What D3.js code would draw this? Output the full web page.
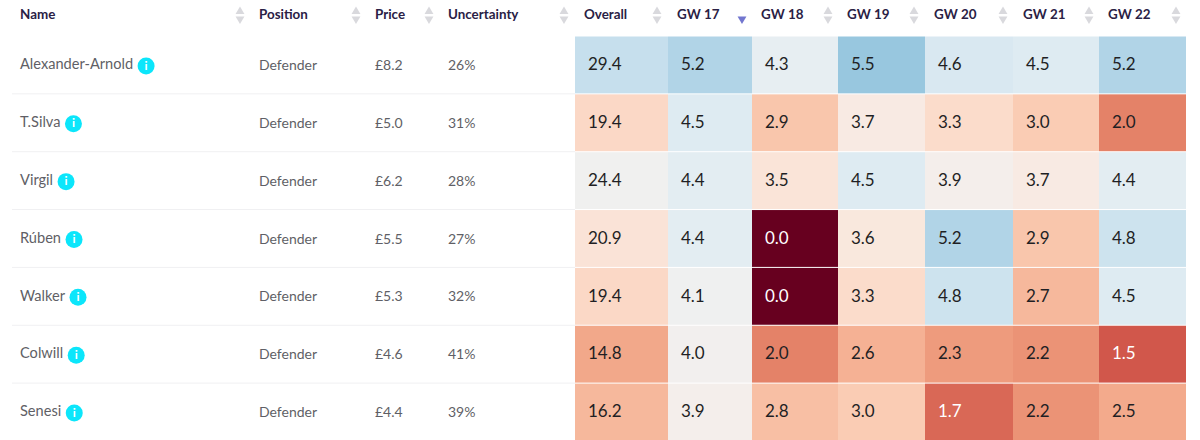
<!DOCTYPE html>
<html>
<head>
<meta charset="utf-8">
<script src="https://cdn.jsdelivr.net/npm/d3@7"></script>
<style>
  html, body { margin: 0; padding: 0; background: #fff; overflow: hidden; }
  text { font-family: Lato, "Open Sans", sans-serif; }
</style>
</head>
<body>
<div id="plot"></div>
<script>
const players = ["Alexander-Arnold", "T.Silva", "Virgil", "Rúben", "Walker", "Colwill", "Senesi"];
const positions = ["Defender", "Defender", "Defender", "Defender", "Defender", "Defender", "Defender"];
const prices = ["£8.2", "£5.0", "£6.2", "£5.5", "£5.3", "£4.6", "£4.4"];
const uncertainty = ["26%", "31%", "28%", "27%", "32%", "41%", "39%"];
const overall = [29.4, 19.4, 24.4, 20.9, 19.4, 14.8, 16.2];
const gw17 = [5.2, 4.5, 4.4, 4.4, 4.1, 4.0, 3.9];
const gw18 = [4.3, 2.9, 3.5, 0.0, 0.0, 2.0, 2.8];
const gw19 = [5.5, 3.7, 4.5, 3.6, 3.3, 2.6, 3.0];
const gw20 = [4.6, 3.3, 3.9, 5.2, 4.8, 2.3, 1.7];
const gw21 = [4.5, 3.0, 3.7, 2.9, 2.7, 2.2, 2.2];
const gw22 = [5.2, 2.0, 4.4, 4.8, 4.5, 1.5, 2.5];
const heatHeaders = ["Overall", "GW 17", "GW 18", "GW 19", "GW 20", "GW 21", "GW 22"];
const heatValues = [overall, gw17, gw18, gw19, gw20, gw21, gw22];

const width = 1200;
const height = 440;
const headerY = 16;
const tableLeft = 12;

// the heat columns are not all the same width
const heatEdges = [575, 668, 752, 838, 925, 1013, 1099, 1186];
const arrowX = [564, 657, 742, 828, 914, 1003, 1089, 1176];

const svg = d3.select("#plot")
  .append("svg")
  .attr("width", width)
  .attr("height", height)
  .style("display", "block");

const yRow = d3.scaleBand()
  .domain(players)
  .range([36.5, 36.5 + 57.85 * players.length]);

const xEdge = d3.scaleOrdinal().domain(heatHeaders).range(heatEdges);
const xNext = d3.scaleOrdinal().domain(heatHeaders).range(heatEdges.slice(1));

// overall sums six gameweeks, so it gets a wider domain on the same ramp
const gwColor = d3.scaleSequential(d3.interpolateRdBu).domain([0, 8]);
const overallColor = d3.scaleSequential(d3.interpolateRdBu).domain([0, 48]);

// row separators
svg.selectAll(".sep")
  .data(players.slice(1))
  .enter()
  .append("line")
  .attr("class", "sep")
  .attr("x1", tableLeft)
  .attr("x2", heatEdges[0])
  .attr("y1", d => yRow(d) - 0.5)
  .attr("y2", d => yRow(d) - 0.5)
  .attr("stroke", "#f0f0f2");

// text columns
const textCols = [
  { x: 259, values: positions },
  { x: 375, values: prices },
  { x: 448, values: uncertainty }
];
textCols.forEach(col => {
  svg.selectAll(null)
    .data(col.values)
    .enter()
    .append("text")
    .attr("x", col.x)
    .attr("y", (d, i) => yRow(players[i]) + yRow.bandwidth() / 2 + 1)
    .attr("dominant-baseline", "middle")
    .attr("font-size", 14)
    .attr("fill", "#5f5f66")
    .text(d => d);
});

// names with their info badge
const nameRows = svg.selectAll(".name")
  .data(players)
  .enter()
  .append("g")
  .attr("class", "name")
  .attr("transform", d => `translate(20,${yRow(d) + yRow.bandwidth() / 2})`);

nameRows.append("text")
  .attr("dominant-baseline", "middle")
  .attr("font-size", 14.6)
  .attr("fill", "#5f5f66")
  .text(d => d);

nameRows.each(function () {
  const g = d3.select(this);
  const cx = g.select("text").node().getComputedTextLength() + 13;
  g.append("circle")
    .attr("cx", cx)
    .attr("cy", 0.5)
    .attr("r", 8.5)
    .attr("fill", "#0be6fb");
  g.append("text")
    .attr("x", cx)
    .attr("y", 1)
    .attr("text-anchor", "middle")
    .attr("dominant-baseline", "middle")
    .attr("font-size", 12)
    .attr("font-weight", 700)
    .attr("fill", "#fff")
    .text("i");
});

// heat cells
heatHeaders.forEach((header, c) => {
  const color = header === "Overall" ? overallColor : gwColor;
  const cells = svg.selectAll(null)
    .data(heatValues[c])
    .enter()
    .append("g");

  cells.append("rect")
    .attr("x", xEdge(header))
    .attr("y", (d, i) => yRow(players[i]))
    .attr("width", xNext(header) - xEdge(header))
    .attr("height", yRow.bandwidth() - 1)
    .attr("fill", d => color(d));

  cells.append("text")
    .attr("x", xEdge(header) + 13)
    .attr("y", (d, i) => yRow(players[i]) + yRow.bandwidth() / 2 + 0.5)
    .attr("dominant-baseline", "middle")
    .attr("font-size", 17)
    .attr("fill", d => (d <= 1.7 ? "#fff" : "#1f1f24"))
    .text(d => d.toFixed(1));
});

// header row
const headers = ["Name", "Position", "Price", "Uncertainty"].concat(heatHeaders);
const headerX = [20, 259, 375, 448, 584, 677, 761, 847, 934, 1023, 1108];
svg.selectAll(".head")
  .data(headers)
  .enter()
  .append("text")
  .attr("class", "head")
  .attr("x", (d, i) => headerX[i])
  .attr("y", headerY)
  .attr("dominant-baseline", "middle")
  .attr("font-size", 13.4)
  .attr("font-weight", 700)
  .attr("fill", "#2a2145")
  .text(d => d);

// sort arrows; GW 17 is the active column so only its down arrow shows
const allArrows = [240, 356, 429].concat(arrowX);
const activeArrow = 742;
const triangle = d3.symbol().type(d3.symbolTriangle).size(34);

const arrows = svg.selectAll(".arrow")
  .data(allArrows)
  .enter()
  .append("g")
  .attr("class", "arrow")
  .attr("transform", d => `translate(${d},15)`);

arrows.filter(d => d !== activeArrow)
  .append("path")
  .attr("d", triangle)
  .attr("transform", "translate(0,-3.5)")
  .attr("fill", "#d9d9dd");

arrows.append("path")
  .attr("d", triangle)
  .attr("transform", d => (d === activeArrow ? "translate(0,4) rotate(180)" : "translate(0,4) rotate(180)"))
  .attr("fill", d => (d === activeArrow ? "#7276cf" : "#d9d9dd"));
</script>
</body>
</html>
